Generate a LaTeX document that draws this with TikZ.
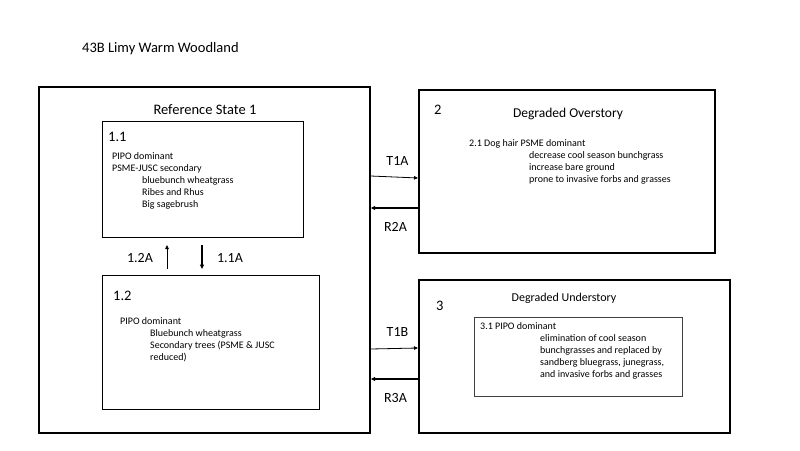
\documentclass[tikz,border=0pt]{standalone}
\usepackage{fontspec}
\setmainfont{Carlito}
\usepackage{tikz}
\usetikzlibrary{arrows.meta}

\begin{document}
\begin{tikzpicture}[x=1pt,y=-1pt,
    statebox/.style={draw,line width=1.7pt,anchor=north west,inner sep=0pt},
    phasebox/.style={draw,line width=1pt,anchor=north west,inner sep=0pt},
    notes/.style={anchor=north west,inner sep=0pt,align=left,font=\fontsize{10}{12}\selectfont},
    big/.style={inner sep=0pt,font=\fontsize{14.5}{16}\selectfont},
    lab/.style={inner sep=0pt,anchor=base,font=\fontsize{14}{16}\selectfont},
    fwd/.style={-{Triangle[length=4pt,width=3.5pt]},line width=0.8pt},
    back/.style={-{Triangle[length=4.5pt,width=4pt]},line width=1.5pt}]
    \useasboundingbox (0,0) rectangle (800,450);
    \node[big,anchor=base west] (title) at (82,52) {43B Limy Warm Woodland};
    % reference state
    \node[statebox,minimum width=331pt,minimum height=346pt] (ref) at (38,86) {};
    \node[big,anchor=base] (reftitle) at (205,114) {Reference State 1};
    \node[phasebox,minimum width=201pt,minimum height=116pt] (box11) at (102,121) {};
    \node[big,anchor=base west] (num11) at (108,141) {1.1};
    \node[notes] (txt11) at (112,152.3) {PIPO dominant\\PSME-JUSC secondary\\
        \hspace*{30pt}bluebunch wheatgrass\\\hspace*{30pt}Ribes and Rhus\\
        \hspace*{30pt}Big sagebrush};
    \node[phasebox,minimum width=217pt,minimum height=134pt] (box12) at (102,275) {};
    \node[big,anchor=base west] (num12) at (113,300) {1.2};
    \node[notes] (txt12) at (120,317.3) {PIPO dominant\\
        \hspace*{30pt}Bluebunch wheatgrass\\
        \hspace*{30pt}Secondary trees (PSME \& JUSC\\\hspace*{30pt}reduced)};
    \draw[fwd,shorten <=6pt,shorten >=7pt] (box12.north -| 167,0) -- (box11.south -| 167,0);
    \draw[back,line width=1.2pt,shorten <=7pt,shorten >=6pt] (box11.south -| 202,0) -- (box12.north -| 202,0);
    \node[lab] (p12a) at (140,262.7) {1.2A};
    \node[lab] (p11a) at (230,262.7) {1.1A};
    % degraded overstory
    \node[statebox,line width=1.5pt,minimum width=296pt,minimum height=163pt] (over) at (418,89) {};
    \node[big,anchor=base west] (num2) at (434,114.3) {2};
    \node[inner sep=0pt,anchor=base,font=\fontsize{13.5}{16}\selectfont] (overtitle) at (568,117.7) {Degraded Overstory};
    \node[notes] (txt2) at (469,139) {2.1 Dog hair PSME dominant\\
        \hspace*{60pt}decrease cool season bunchgrass\\
        \hspace*{60pt}increase bare ground\\
        \hspace*{60pt}prone to invasive forbs and grasses};
    % degraded understory
    \node[statebox,line width=1.5pt,minimum width=311pt,minimum height=153pt] (under) at (418,279) {};
    \node[big,anchor=base west] (num3) at (436,310) {3};
    \node[inner sep=0pt,anchor=base,font=\fontsize{12}{14}\selectfont] (undertitle) at (564,301.7) {Degraded Understory};
    \node[phasebox,line width=0.8pt,draw=black!75,minimum width=208pt,minimum height=79pt] (box31) at (474,317) {};
    \node[notes] (txt31) at (480,322.3) {3.1 PIPO dominant\\
        \hspace*{60pt}elimination of cool season\\
        \hspace*{60pt}bunchgrasses and replaced by\\
        \hspace*{60pt}sandberg bluegrass, junegrass,\\
        \hspace*{60pt}and invasive forbs and grasses};
    % transitions
    \draw[fwd] (ref.east |- 0,176) -- (over.west |- 0,178);
    \draw[back] (over.west |- 0,208) -- (ref.east |- 0,208);
    \draw[fwd] (ref.east |- 0,349) -- (under.west |- 0,348);
    \draw[back] (under.west |- 0,379) -- (ref.east |- 0,379);
    \node[lab] (t1a) at (397.5,165) {T1A};
    \node[lab] (r2a) at (395.5,231.7) {R2A};
    \node[lab] (t1b) at (397.5,336.7) {T1B};
    \node[lab] (r3a) at (395.5,402.3) {R3A};
\end{tikzpicture}
\end{document}
